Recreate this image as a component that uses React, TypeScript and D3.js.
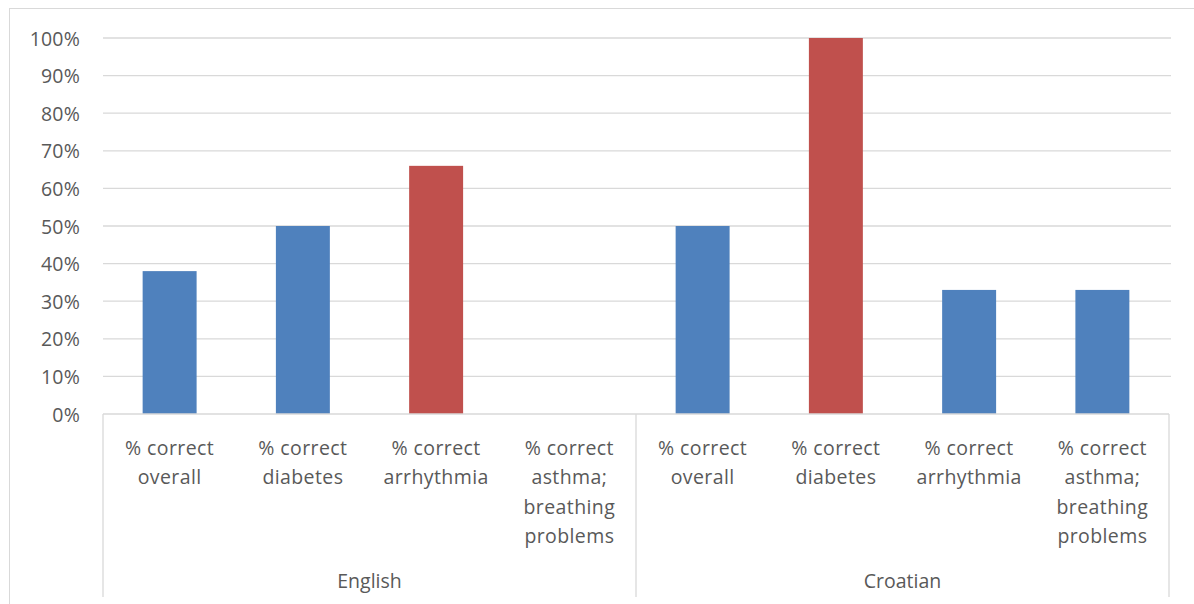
import React from "react";
import * as d3 from "d3";

const groups = ["English", "Croatian"];
const categories = [
  ["% correct", "overall"],
  ["% correct", "diabetes"],
  ["% correct", "arrhythmia"],
  ["% correct", "asthma;", "breathing", "problems"],
];
const englishValues = [0.38, 0.5, 0.66, 0];
const croatianValues = [0.5, 1.0, 0.33, 0.33];
const highlighted = [
  [false, false, true, false],
  [false, true, false, false],
];
const yTicks = [0, 0.1, 0.2, 0.3, 0.4, 0.5, 0.6, 0.7, 0.8, 0.9, 1.0];

const W = 1194;
const H = 604;
const left = 103;
const right = 1169;
const top = 38;
const bottom = 414;
const BLUE = "#4F81BD";
const RED = "#C0504D";
const TEXT = "#595959";
const GRID = "#D9D9D9";
const FONT = "'Open Sans', sans-serif";
const FS = 19.5;

export default function App() {
  const values = [englishValues, croatianValues];
  const items = groups.flatMap((g, gi) =>
    categories.map((c, ci) => ({
      key: `${gi}-${ci}`,
      gi,
      ci,
      label: c,
      value: values[gi][ci],
      hi: highlighted[gi][ci],
    }))
  );
  const x = d3
    .scaleBand<string>()
    .domain(items.map((d) => d.key))
    .range([left, right])
    .paddingInner(0.595)
    .paddingOuter(0.2975);
  const xOuter = d3.scaleBand<string>().domain(items.map((d) => d.key)).range([left, right]);
  const y = d3.scaleLinear().domain([0, 1]).range([bottom, top]);
  const fmt = d3.format(".0%");
  const groupW = (right - left) / groups.length;

  return (
    <svg
      width={W}
      height={H}
      style={{ position: "absolute", left: 0, top: 0, background: "#fff" }}
    >
      <rect x={9.5} y={8.5} width={W + 10} height={H + 10} fill="#fff" stroke={GRID} strokeWidth={1} />
      {yTicks.map((t) => (
        <g key={t}>
          {t > 0 && (
            <line x1={left} x2={right + 2} y1={y(t)} y2={y(t)} stroke={GRID} strokeWidth={1.3} />
          )}
          <text
            x={80}
            y={y(t)}
            textAnchor="end"
            dominantBaseline="central"
            fontFamily={FONT}
            fontSize={FS}
            letterSpacing={0.2}
            fill={TEXT}
          >
            {fmt(t)}
          </text>
        </g>
      ))}
      {items.map((d) => (
        <rect
          key={d.key}
          x={x(d.key)}
          width={x.bandwidth()}
          y={y(d.value)}
          height={bottom - y(d.value)}
          fill={d.hi ? RED : BLUE}
        />
      ))}
      <line x1={left} x2={right} y1={bottom} y2={bottom} stroke={GRID} strokeWidth={1.3} />
      {[0, 1, 2].map((i) => (
        <line
          key={i}
          x1={left + i * groupW}
          x2={left + i * groupW}
          y1={bottom}
          y2={597}
          stroke={GRID}
          strokeWidth={1.3}
        />
      ))}
      {items.map((d) => (
        <text
          key={"l" + d.key}
          x={(xOuter(d.key) ?? 0) + xOuter.bandwidth() / 2}
          textAnchor="middle"
          fontFamily={FONT}
          fontSize={FS}
          letterSpacing={0.4}
          fill={TEXT}
        >
          {d.label.map((line, li) => (
            <tspan
              key={li}
              x={(xOuter(d.key) ?? 0) + xOuter.bandwidth() / 2}
              y={447 + li * 29.5}
              dominantBaseline="central"
            >
              {line}
            </tspan>
          ))}
        </text>
      ))}
      {groups.map((g, gi) => (
        <text
          key={g}
          x={left + gi * groupW + groupW / 2}
          y={580}
          textAnchor="middle"
          dominantBaseline="central"
          fontFamily={FONT}
          fontSize={FS}
          fill={TEXT}
        >
          {g}
        </text>
      ))}
    </svg>
  );
}
